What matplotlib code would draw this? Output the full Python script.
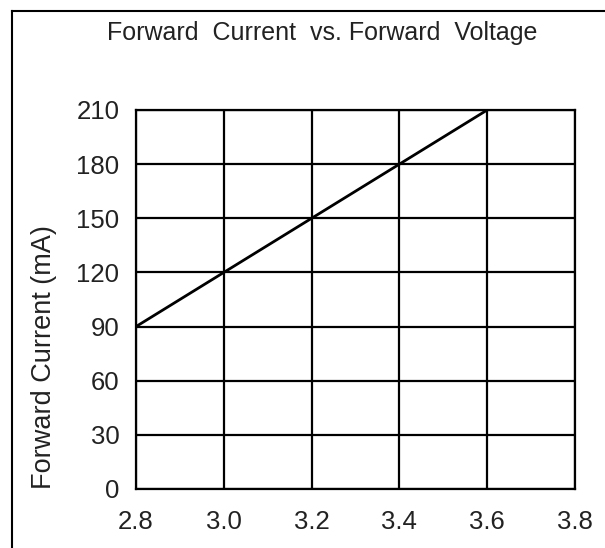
import matplotlib
matplotlib.use("Agg")
import matplotlib.pyplot as plt
from matplotlib.lines import Line2D
from matplotlib import font_manager

voltage = [2.8, 3.0, 3.2, 3.4, 3.6]
current = [90, 120, 150, 180, 210]
x_ticks = [2.8, 3.0, 3.2, 3.4, 3.6, 3.8]
y_ticks = [0, 30, 60, 90, 120, 150, 180, 210]

names = {f.name for f in font_manager.fontManager.ttflist}
fam = ["Liberation Sans Narrow", "DejaVu Sans"] if "Liberation Sans Narrow" in names else ["Liberation Sans", "DejaVu Sans"]
plt.rcParams['font.family'] = fam

fig = plt.figure(figsize=(6.05, 5.48), dpi=100)
ax = fig.add_axes([136/605, (548-489)/548, (575-136)/605, (489-110)/548])

ax.plot(voltage, current, color='black', lw=2.0, zorder=3)
ax.set_xlim(2.8, 3.8)
ax.set_ylim(0, 210)
ax.set_xticks(x_ticks)
ax.set_xticklabels([f"{v:.1f}" for v in x_ticks])
ax.set_yticks(y_ticks)
ax.set_yticklabels([str(v) for v in y_ticks])
ax.grid(True, color='black', lw=1.6)
ax.tick_params(length=0, labelsize=18.5, colors='#222222')
ax.tick_params(axis='y', pad=12)
ax.tick_params(axis='x', pad=15)
for s in ax.spines.values():
    s.set_linewidth(1.6)
    s.set_color('black')

ax.set_ylabel("Forward Current (mA)", fontsize=19.5, color='#222222')
ax.yaxis.set_label_coords(-0.18, 0.348)
fig.text(322/605, 1 - 33/548, "Forward  Current  vs. Forward  Voltage", ha='center', va='center',
         fontsize=18, color='#222222')

# outer frame (top and left lines)
fig.add_artist(Line2D([12/605, 12/605], [0, 1 - 11/548], color='black', lw=1.5, transform=fig.transFigure))
fig.add_artist(Line2D([12/605, 1], [1 - 11/548, 1 - 11/548], color='black', lw=1.5, transform=fig.transFigure))

fig.savefig("out.png", dpi=100)
